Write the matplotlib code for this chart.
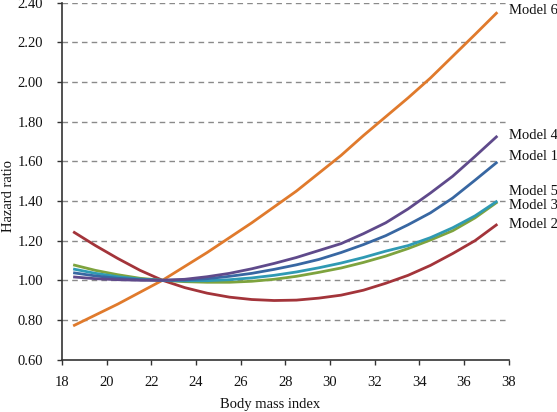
import matplotlib
matplotlib.use("Agg")
import matplotlib.pyplot as plt

# BMI sample points and hazard ratios
bmi = [18.5, 19.5, 20.5, 21.5, 22.5, 23.5, 24.5, 25.5, 26.5, 27.5,
       28.5, 29.5, 30.5, 31.5, 32.5, 33.5, 34.5, 35.5, 36.5, 37.5]

model_1 = [1.038, 1.022, 1.010, 1.003, 1.000, 1.002, 1.008, 1.020, 1.035, 1.055,
           1.078, 1.105, 1.140, 1.180, 1.225, 1.280, 1.340, 1.415, 1.505, 1.597]
model_2 = [1.245, 1.175, 1.110, 1.050, 1.000, 0.963, 0.935, 0.915, 0.903, 0.898,
           0.900, 0.910, 0.925, 0.950, 0.985, 1.025, 1.075, 1.135, 1.200, 1.283]
model_3 = [1.078, 1.050, 1.028, 1.010, 1.000, 0.993, 0.990, 0.990, 0.995, 1.005,
           1.020, 1.040, 1.062, 1.090, 1.122, 1.160, 1.203, 1.250, 1.315, 1.395]
model_4 = [1.017, 1.008, 1.003, 1.000, 1.000, 1.005, 1.018, 1.035, 1.058, 1.085,
           1.115, 1.150, 1.185, 1.235, 1.290, 1.360, 1.440, 1.525, 1.625, 1.728]
model_5 = [1.057, 1.035, 1.018, 1.006, 1.000, 0.997, 0.998, 1.003, 1.012, 1.025,
           1.042, 1.063, 1.087, 1.115, 1.147, 1.175, 1.215, 1.265, 1.325, 1.400]
model_6 = [0.770, 0.825, 0.880, 0.940, 1.000, 1.070, 1.140, 1.215, 1.290, 1.370,
           1.450, 1.540, 1.630, 1.730, 1.825, 1.920, 2.020, 2.130, 2.240, 2.352]

names = ["Model 1", "Model 2", "Model 3", "Model 4", "Model 5", "Model 6"]
series = [model_1, model_2, model_3, model_4, model_5, model_6]
colors = ["#3867a2", "#a3343a", "#7ea33e", "#5f4a8b", "#2f9ab4", "#e07a2c"]
# small vertical nudges (points) so end labels don't collide
label_nudge = [4, 0, -2.5, 0, 6.5, 1.5]

x_ticks = list(range(18, 40, 2))
y_ticks = [0.6, 0.8, 1.0, 1.2, 1.4, 1.6, 1.8, 2.0, 2.2, 2.4]

plt.rcParams['font.family'] = ['Liberation Serif', 'DejaVu Serif']
FS = 10.5

fig = plt.figure(figsize=(5.57, 4.12), dpi=100)
ax = fig.add_axes([0.1113, 0.1272, 0.913 - 0.1113, 0.9934 - 0.1272])

for yv in y_ticks[1:]:
    ax.axhline(yv, color="#8a8a8a", lw=1.0, ls=(0, (4, 3)), zorder=1)

# draw order so that the overlaps look like the reference
for i in [5, 1, 2, 4, 0, 3]:
    ax.plot(bmi, series[i], color=colors[i], lw=2.0, zorder=3,
            solid_capstyle="butt")

for name, vals, nudge in zip(names, series, label_nudge):
    ax.annotate(name, xy=(38, vals[-1]), xytext=(0.5, nudge),
                textcoords="offset points", ha="left", va="center",
                fontsize=FS, color="#111111", annotation_clip=False)

ax.set_xlim(18, 38)
ax.set_ylim(0.6, 2.4)
ax.set_xticks(x_ticks)
ax.set_yticks(y_ticks)
ax.set_yticklabels([f"{v:.2f}" for v in y_ticks])
ax.tick_params(axis="both", direction="out", length=3.6, width=1.0,
               color="#333333", labelsize=FS, labelcolor="#111111")
ax.tick_params(axis="y", pad=10)
ax.tick_params(axis="x", pad=8.5)

for side in ["top", "right"]:
    ax.spines[side].set_visible(False)
for side in ["left", "bottom"]:
    ax.spines[side].set_color("#333333")
    ax.spines[side].set_linewidth(1.2)

ax.set_xlabel("Body mass index", fontsize=FS, color="#111111", va="center")
ax.xaxis.set_label_coords(0.467, -0.127)
ax.set_ylabel("Hazard ratio", fontsize=FS, color="#111111", va="center")
ax.yaxis.set_label_coords(-0.12, 0.458)

fig.savefig("out.png", dpi=100)
